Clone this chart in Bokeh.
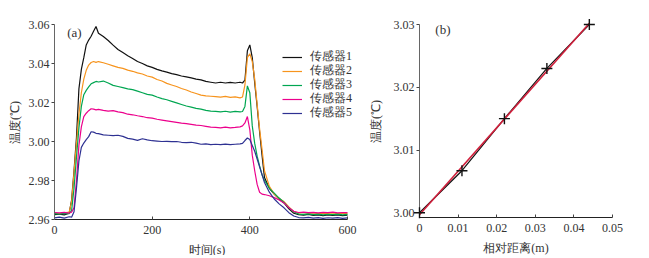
from bokeh.plotting import figure
from bokeh.layouts import row
from bokeh.models import Legend, LegendItem, Label, FixedTicker, PrintfTickFormatter, Range1d
from bokeh.embed import file_html
from bokeh.resources import INLINE
import numpy as np

# ---------------- data: panel (a) ----------------
time_s = [0, 10, 20, 30, 35, 40, 45, 50, 55, 60, 65, 70, 75, 80, 85, 90,
          100, 110, 120, 130, 140, 150, 160, 170, 180, 190, 200, 210, 220, 230,
          240, 250, 260, 270, 280, 290, 300, 310, 320, 330, 340, 350, 360, 370, 380,
          385, 390, 395, 400, 405, 410, 415, 420, 425, 430,
          440, 450, 460, 470, 480, 490, 500, 510, 520, 530, 540, 550, 560, 570, 580, 590, 600]

sensor1 = [2.9625, 2.9628, 2.9624, 2.9632, 2.9700, 2.9850, 3.0020, 3.0270, 3.0370, 3.0430, 3.0495, 3.0520, 3.0540, 3.0565, 3.0590, 3.0555,
           3.0538, 3.0518, 3.0494, 3.0472, 3.0456, 3.0440, 3.0426, 3.0410, 3.0400, 3.0388, 3.0380, 3.0370, 3.0362, 3.0356,
           3.0348, 3.0343, 3.0336, 3.0331, 3.0326, 3.0320, 3.0316, 3.0308, 3.0304, 3.0300, 3.0304, 3.0300, 3.0303, 3.0300, 3.0304,
           3.0300, 3.0315, 3.0465, 3.0495, 3.0430, 3.0300, 3.0180, 3.0050, 2.9930, 2.9815,
           2.9760, 2.9730, 2.9705, 2.9685, 2.9655, 2.9632, 2.9625, 2.9622, 2.9626, 2.9621, 2.9624, 2.9620, 2.9623, 2.9621, 2.9624, 2.9620, 2.9622]

sensor2 = [2.9632, 2.9630, 2.9634, 2.9638, 2.9690, 2.9840, 2.9990, 3.0140, 3.0250, 3.0320, 3.0365, 3.0392, 3.0405, 3.0410, 3.0406, 3.0410,
           3.0404, 3.0396, 3.0388, 3.0380, 3.0375, 3.0366, 3.0360, 3.0352, 3.0346, 3.0336, 3.0330, 3.0318, 3.0310, 3.0298,
           3.0290, 3.0282, 3.0272, 3.0264, 3.0254, 3.0246, 3.0238, 3.0234, 3.0232, 3.0230, 3.0228, 3.0231, 3.0226, 3.0229, 3.0224,
           3.0228, 3.0290, 3.0430, 3.0450, 3.0410, 3.0320, 3.0190, 3.0065, 2.9960, 2.9850,
           2.9770, 2.9730, 2.9708, 2.9692, 2.9664, 2.9640, 2.9633, 2.9636, 2.9631, 2.9634, 2.9630, 2.9633, 2.9631, 2.9634, 2.9630, 2.9633, 2.9631]

sensor3 = [2.9630, 2.9628, 2.9631, 2.9630, 2.9645, 2.9760, 2.9920, 3.0070, 3.0180, 3.0240, 3.0262, 3.0280, 3.0296, 3.0302, 3.0308, 3.0305,
           3.0310, 3.0300, 3.0288, 3.0282, 3.0276, 3.0270, 3.0266, 3.0258, 3.0250, 3.0242, 3.0238, 3.0228, 3.0220, 3.0214,
           3.0206, 3.0198, 3.0190, 3.0182, 3.0176, 3.0170, 3.0166, 3.0160, 3.0156, 3.0154, 3.0152, 3.0155, 3.0151, 3.0154, 3.0152,
           3.0154, 3.0180, 3.0285, 3.0250, 3.0080, 2.9990, 2.9925, 2.9875, 2.9830, 2.9800,
           2.9760, 2.9735, 2.9710, 2.9688, 2.9660, 2.9640, 2.9628, 2.9626, 2.9629, 2.9625, 2.9628, 2.9624, 2.9627, 2.9625, 2.9628, 2.9624, 2.9626]

sensor4 = [2.9636, 2.9634, 2.9637, 2.9633, 2.9638, 2.9660, 2.9800, 2.9980, 3.0075, 3.0128, 3.0145, 3.0158, 3.0168, 3.0166, 3.0162, 3.0165,
           3.0160, 3.0156, 3.0158, 3.0152, 3.0148, 3.0140, 3.0137, 3.0132, 3.0128, 3.0122, 3.0120, 3.0114, 3.0110, 3.0106,
           3.0102, 3.0098, 3.0094, 3.0092, 3.0088, 3.0084, 3.0082, 3.0078, 3.0074, 3.0072, 3.0070, 3.0074, 3.0070, 3.0072, 3.0075,
           3.0080, 3.0095, 3.0128, 3.0060, 2.9930, 2.9850, 2.9780, 2.9740, 2.9730, 2.9728,
           2.9722, 2.9712, 2.9700, 2.9685, 2.9660, 2.9642, 2.9636, 2.9638, 2.9635, 2.9637, 2.9634, 2.9637, 2.9635, 2.9638, 2.9634, 2.9636, 2.9635]

sensor5 = [2.9608, 2.9612, 2.9607, 2.9614, 2.9612, 2.9640, 2.9760, 2.9900, 2.9970, 2.9992, 3.0010, 3.0025, 3.0050, 3.0048, 3.0042, 3.0040,
           3.0034, 3.0032, 3.0030, 3.0032, 3.0026, 3.0016, 3.0012, 3.0006, 3.0014, 3.0008, 3.0004, 3.0002, 3.0000, 3.0001,
           2.9999, 3.0000, 2.9996, 2.9994, 2.9996, 2.9992, 2.9986, 2.9988, 2.9984, 2.9986, 2.9984, 2.9987, 2.9984, 2.9986, 2.9988,
           2.9990, 3.0005, 3.0018, 3.0010, 2.9980, 2.9950, 2.9910, 2.9870, 2.9830, 2.9790,
           2.9740, 2.9705, 2.9680, 2.9660, 2.9635, 2.9618, 2.9610, 2.9608, 2.9611, 2.9607, 2.9610, 2.9606, 2.9609, 2.9607, 2.9610, 2.9606, 2.9608]

sensor_names = ["传感器1", "传感器2", "传感器3", "传感器4", "传感器5"]
sensor_colors = ["#111111", "#f7941d", "#00a651", "#ec008c", "#2e3192"]

x_ticks_a = [0, 200, 400, 600]
y_ticks_a = [2.96, 2.98, 3.00, 3.02, 3.04, 3.06]

# ---------------- data: panel (b) ----------------
dist_m = [0.0, 0.011, 0.022, 0.033, 0.044]
temp_b = [3.0000, 3.0067, 3.0150, 3.0230, 3.0300]
x_ticks_b = [0, 0.01, 0.02, 0.03, 0.04, 0.05]
y_ticks_b = [3.00, 3.01, 3.02, 3.03]

FONT = "Liberation Serif"
TXT = "#333333"


def style_axes(p):
    for ax in (p.xaxis[0], p.yaxis[0]):
        ax.major_label_text_font = FONT
        ax.major_label_text_font_size = "12px"
        ax.major_label_text_color = TXT
        ax.axis_label_text_font = FONT
        ax.axis_label_text_font_size = "12px"
        ax.axis_label_text_font_style = "normal"
        ax.axis_label_text_color = TXT
        ax.minor_tick_line_color = None
    p.yaxis.axis_line_color = "#666666"
    p.yaxis.major_tick_line_color = "#444444"
    p.yaxis.major_tick_out = 3
    p.yaxis.major_tick_in = 0
    p.yaxis.major_label_standoff = 2
    p.xaxis.axis_line_color = "#222222"
    p.xaxis.major_tick_line_color = "#444444"
    p.xaxis.major_tick_in = 3
    p.xaxis.major_tick_out = 0
    p.xaxis.major_label_standoff = 6
    p.xaxis.axis_label_standoff = 6
    p.xgrid.visible = False
    p.ygrid.visible = False
    p.outline_line_color = None


# ---------------- panel (a) ----------------
pa = figure(frame_width=305, frame_height=195,
            x_range=Range1d(0, 624.6), y_range=Range1d(2.96, 3.06),
            min_border_left=54, min_border_right=0, min_border_top=20, min_border_bottom=36,
            output_backend="svg", toolbar_location=None)
style_axes(pa)
pa.xaxis.ticker = FixedTicker(ticks=x_ticks_a)
pa.xaxis.bounds = (0, 600)
pa.yaxis.ticker = FixedTicker(ticks=y_ticks_a)
pa.yaxis.formatter = PrintfTickFormatter(format="%.2f")
pa.xaxis.axis_label = "时间(s)"
pa.yaxis.axis_label = "温度(℃)"
pa.yaxis.axis_label_standoff = 4

series = [sensor1, sensor2, sensor3, sensor4, sensor5]
for i, (name, col, vals) in enumerate(zip(sensor_names, sensor_colors, series)):
    r = pa.line(time_s, vals, line_color=col, line_width=1.2)
    lg = Legend(items=[LegendItem(label=name, renderers=[r])],
                location=(228, int(round(154 - 14.1 * i))), orientation="vertical",
                padding=0, margin=0, spacing=0, glyph_width=20, glyph_height=14,
                label_height=14, label_standoff=8,
                label_text_font=FONT, label_text_font_size="12px", label_text_color=TXT,
                border_line_color=None, background_fill_alpha=0)
    pa.add_layout(lg, "center")

pa.add_layout(Label(x=26, y=3.0558, text="(a)", text_baseline="middle",
                    text_font=FONT, text_font_size="13px", text_color=TXT))

# ---------------- panel (b) ----------------
pb = figure(frame_width=193, frame_height=193,
            x_range=Range1d(0, 0.05), y_range=Range1d(2.99925, 3.03),
            min_border_left=60, min_border_right=20, min_border_top=24, min_border_bottom=34,
            output_backend="svg", toolbar_location=None)
style_axes(pb)
pb.xaxis.ticker = FixedTicker(ticks=x_ticks_b)
pb.xaxis.formatter = PrintfTickFormatter(format="%.2f")
pb.xaxis.major_label_overrides = {0: "0"}
pb.yaxis.ticker = FixedTicker(ticks=y_ticks_b)
pb.yaxis.formatter = PrintfTickFormatter(format="%.2f")
pb.xaxis.axis_label = "相对距离(m)"
pb.yaxis.axis_label = "温度(℃)"
pb.yaxis.axis_label_standoff = 8

coef = np.polyfit(dist_m, temp_b, 1)
fit_x = [dist_m[0], dist_m[-1]]
fit_y = [float(np.polyval(coef, v)) for v in fit_x]

pb.line(dist_m, temp_b, line_color="#111111", line_width=1.2, level="overlay")
pb.line(fit_x, fit_y, line_color="#d0203c", line_width=1.6, level="overlay")
pb.scatter(dist_m, temp_b, marker="cross", size=11, line_color="#111111", line_width=1.4, level="overlay")

pb.add_layout(Label(x=0.0041, y=3.0292, text="(b)", text_baseline="middle",
                    text_font=FONT, text_font_size="13px", text_color=TXT))

layout = row(pa, pb)
open("out.html", "w").write(file_html(layout, INLINE))
